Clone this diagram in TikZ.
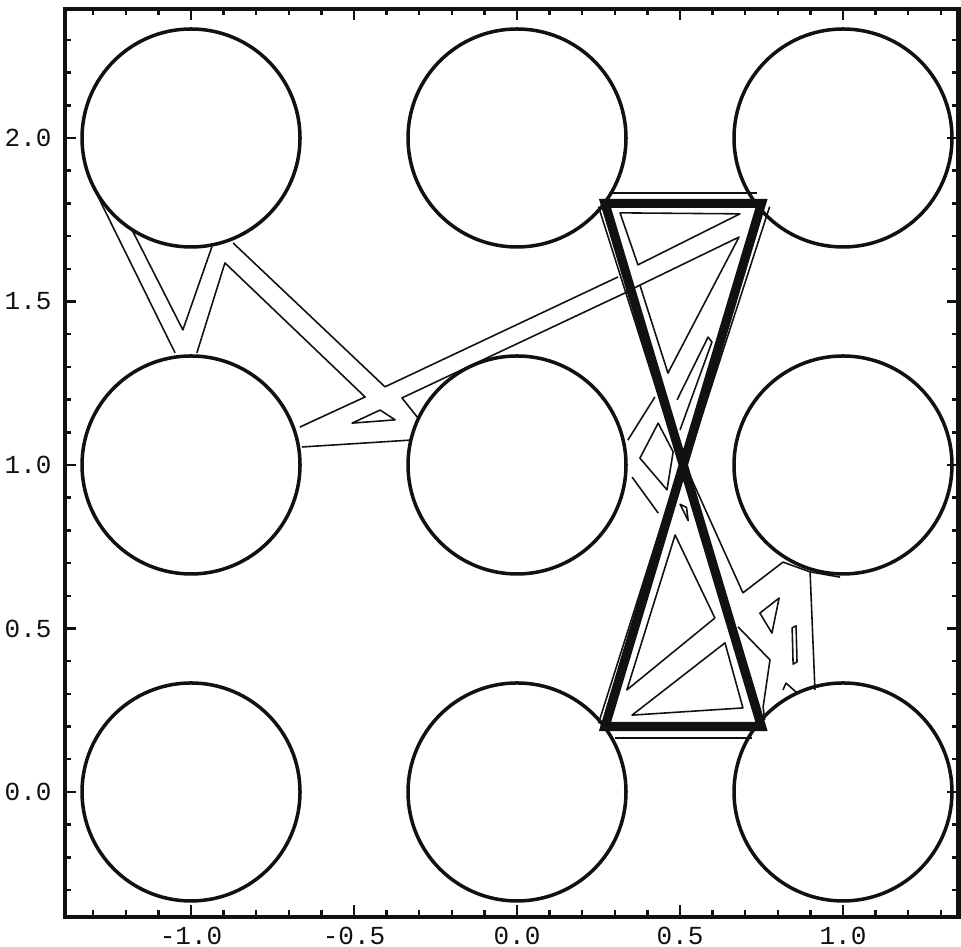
\documentclass[tikz,border=0pt]{standalone}
\usepackage{tikz}
\usetikzlibrary{calc}
\usepackage{fontspec}
\newfontfamily\tickfont{Liberation Mono}
\usepackage{xcolor}
\definecolor{inkblack}{HTML}{111111}

\begin{document}
\begin{tikzpicture}[x=3.26cm, y=3.27cm,
    well/.style={draw=inkblack, circle, line width=1pt, minimum size=2.18cm, inner sep=0pt},
    trace/.style={draw=inkblack, line width=0.45pt, line join=round},
    bowtie/.style={draw=inkblack, line width=2.6pt},
    frameline/.style={draw=inkblack, line width=1.3pt},
    tickmark/.style={draw=inkblack, line width=0.7pt},
    ticklabel/.style={text=inkblack, font=\tickfont\fontsize{7.4}{8}\selectfont, inner sep=1pt}]
  \useasboundingbox (-1.586,-0.474) rectangle (1.362,2.422);

  % frame, ticks and labels
  \draw[frameline] (-1.387,-0.382) rectangle (1.355,2.395);
  \foreach \k in {-13,...,13} {
    \draw[tickmark] (\k/10,-0.382) -- ++(0,0.02);
    \draw[tickmark] (\k/10,2.395) -- ++(0,-0.02);
  }
  \foreach \k in {-3,...,23} {
    \draw[tickmark] (-1.387,\k/10) -- ++(0.02,0);
    \draw[tickmark] (1.355,\k/10) -- ++(-0.02,0);
  }
  \foreach \k in {-2,...,2} {
    \draw[tickmark] (\k/2,-0.382) -- ++(0,0.035);
    \draw[tickmark] (\k/2,2.395) -- ++(0,-0.035);
  }
  \foreach \k in {0,...,4} {
    \draw[tickmark] (-1.387,\k/2) -- ++(0.035,0);
    \draw[tickmark] (1.355,\k/2) -- ++(-0.035,0);
  }
  \foreach \v/\t [count=\n] in {-1/-1.0, -0.5/-0.5, 0/0.0, 0.5/0.5, 1/1.0}
    \node[ticklabel] (xl\n) at (\v,-0.44) {\t};
  \foreach \v/\t [count=\n] in {0/0.0, 0.5/0.5, 1/1.0, 1.5/1.5, 2/2.0}
    \node[ticklabel, anchor=east] (yl\n) at (-1.415,\v) {\t};

  % obstacles
  \foreach \i/\a in {-1/l, 0/m, 1/r}
    \foreach \j/\b in {0/b, 1/c, 2/t}
      \node[well] (well\a\b) at (\i,\j) {};

  % thin traces, left part
  \draw[trace] (-1.291,1.832) -- (-1.049,1.343);
  \draw[trace] (-1.181,1.719) -- (-1.025,1.413) -- (-0.936,1.667);
  \draw[trace] (-0.982,1.343) -- (-0.896,1.618) -- (-0.466,1.208) -- (-0.666,1.116);
  \draw[trace] (-0.871,1.679) -- (-0.405,1.239) -- (0.310,1.575);
  \draw[trace] (-0.304,1.144) -- (-0.353,1.205) -- (0.331,1.526) -- (0.377,1.550)
               -- (0.681,1.697) -- (0.463,1.281) -- (0.377,1.550);
  \draw[trace] (-0.660,1.055) -- (-0.328,1.076);
  \draw[trace] (-0.506,1.128) -- (-0.420,1.168) -- (-0.374,1.138) -- cycle;

  % thin traces round the bowtie
  \draw[trace] (0.291,1.832) -- (0.736,1.832);
  \draw[trace] (0.30,0.165) -- (0.72,0.165);
  \draw[trace] (0.316,1.771) -- (0.371,1.612) -- (0.684,1.768) -- cycle;
  \draw[trace] (0.25,1.79) -- (0.495,1.02);
  \draw[trace] (0.775,1.79) -- (0.525,1.02);
  \draw[trace] (0.495,0.98) -- (0.25,0.21);
  \draw[trace] (0.525,0.98) -- (0.693,0.609) -- (0.816,0.703);
  \draw[trace] (0.678,0.505) -- (0.776,0.404) -- (0.755,0.260) -- (0.76,0.22);
  \draw[trace] (0.340,1.076) -- (0.423,1.208);
  \draw[trace] (0.353,0.963) -- (0.433,0.853);
  \draw[trace] (0.377,1.021) -- (0.433,1.128) -- (0.479,1.040) -- (0.460,0.924) -- cycle;
  \draw[trace] (0.491,1.199) -- (0.586,1.391) -- (0.598,1.376) -- (0.500,1.107);
  \draw[trace] (0.50,0.88) -- (0.525,0.83) -- (0.52,0.87) -- cycle;
  \draw[trace] (0.485,0.786) -- (0.607,0.532) -- (0.337,0.312) -- cycle;
  \draw[trace] (0.353,0.235) -- (0.638,0.456) -- (0.693,0.257) -- cycle;

  % thin traces, right part
  \draw[trace] (0.745,0.547) -- (0.804,0.593) -- (0.782,0.486) -- cycle;
  \draw[trace] (0.844,0.502) -- (0.856,0.508) -- (0.859,0.398) -- (0.847,0.391) -- cycle;
  \draw[trace] (0.816,0.703) -- (0.899,0.673) -- (0.991,0.657);
  \draw[trace] (0.899,0.673) -- (0.914,0.312);
  \draw[trace] (0.816,0.312) -- (0.825,0.333) -- (0.859,0.303);

  % bowtie
  \coordinate (tl) at (0.27,1.8);
  \coordinate (tr) at (0.75,1.8);
  \coordinate (bl) at (0.27,0.2);
  \coordinate (br) at (0.75,0.2);
  \draw[bowtie] (tl) -- (tr) -- (bl) -- (br) -- cycle;
\end{tikzpicture}
\end{document}
